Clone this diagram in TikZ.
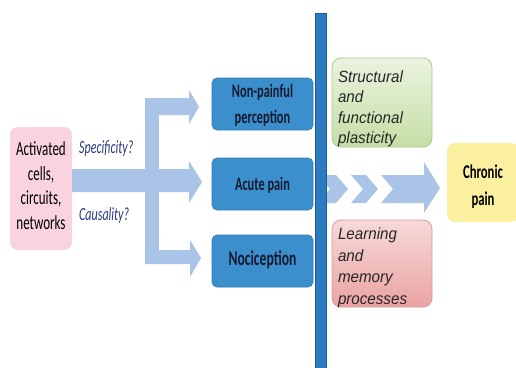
\documentclass[tikz,border=0pt]{standalone}
\usepackage{fontspec}
\newfontfamily\calfont[FakeStretch=0.65]{Carlito}
\newfontfamily\arifont[FakeStretch=0.93]{Liberation Sans}
\definecolor{arrowc}{HTML}{A9C4E6}
\definecolor{boxblue}{HTML}{3B8FCD}
\definecolor{boxtext}{HTML}{161A30}
\definecolor{navy}{HTML}{2B3A80}
\definecolor{linefill}{HTML}{2A7BC0}
\definecolor{lineedge}{HTML}{1E5A96}
\definecolor{pinkbox}{HTML}{F9D3E0}
\definecolor{yelbox}{HTML}{FBF0A0}
\definecolor{grtop}{HTML}{EAF3DF}
\definecolor{grbot}{HTML}{C6DEA6}
\definecolor{gredge}{HTML}{A9CB8C}
\definecolor{rdtop}{HTML}{F7D9D9}
\definecolor{rdbot}{HTML}{EBA3A3}
\definecolor{rdedge}{HTML}{D99A9A}
\tikzset{
  bluebox/.style={draw=boxblue!85!black, line width=0.6pt, fill=boxblue, rounded corners=5pt,
    minimum width=101pt, minimum height=52pt, inner sep=0pt},
  bluetext/.style={text=boxtext, align=center, inner sep=0pt},
  softbox/.style={rounded corners=9pt, minimum width=100pt, inner sep=0pt, line width=0.8pt},
  softtext/.style={text width=88pt, align=left, inner sep=0pt, text=black!85},
  arr/.style={fill=arrowc, draw=none},
}
\begin{document}
\begin{tikzpicture}[x=1pt,y=-1pt]
\useasboundingbox (0,0) rectangle (516,367);

% block arrows
\fill[arr] (60,169) -- (189,169) -- (189,161) -- (202,182) -- (189,203) -- (189,192) -- (60,192) -- cycle;
\fill[arr] (145,98) rectangle (159,263);
\fill[arr] (145,98) -- (189,98) -- (189,90) -- (199,107) -- (189,124) -- (189,115) -- (145,115) -- cycle;
\fill[arr] (145,250) -- (190,250) -- (190,240) -- (201,258) -- (190,277) -- (190,264) -- (145,264) -- cycle;

% source box
\node[fill=pinkbox, rounded corners=8pt, minimum width=62pt, minimum height=123pt, inner sep=0pt] (src) at (41,188.5) {};
\node[align=center, inner sep=0pt, font=\calfont\fontsize{20}{24.7}\selectfont] (srct) at ([yshift=3pt]src.center)
  {Activated\\cells,\\circuits,\\networks};

\node[anchor=west, text=navy, font=\calfont\itshape\fontsize{18.5}{20}\selectfont, inner sep=0pt] (spec) at (79,149) {Specificity?};
\node[anchor=west, text=navy, font=\calfont\itshape\fontsize{18.5}{20}\selectfont, inner sep=0pt] (caus) at (79,216) {Causality?};

% blue boxes
\node[bluebox] (np) at (262.5,104) {};
\node[bluebox] (ap) at (262.5,184) {};
\node[bluebox] (no) at (262.5,261) {};
\node[bluetext, font=\calfont\bfseries\fontsize{19}{25.5}\selectfont] (npt) at ([yshift=-1.5pt]np.center) {Non-painful\\perception};
\node[bluetext, font=\calfont\bfseries\fontsize{19}{25}\selectfont] (apt) at ([yshift=-1pt]ap.center) {Acute pain};
\node[bluetext, font=\calfont\bfseries\fontsize{21}{25}\selectfont] (not) at ([yshift=1.5pt]no.center) {Nociception};

% chevrons and final arrow
\fill[arr] (318,175) -- (336,175) -- (348,189) -- (336,203) -- (318,203) -- (330,189) -- cycle;
\fill[arr] (351,175) -- (366,175) -- (378,189) -- (366,203) -- (351,203) -- (363,189) -- cycle;
\fill[arr] (381,175) -- (424,175) -- (424,162) -- (440,188) -- (424,213) -- (424,203) -- (381,203) -- (393,189) -- cycle;

% vertical barrier
\fill[linefill, draw=lineedge, line width=1pt] (315.5,13.5) rectangle (326.5,368);

% side boxes
\node[softbox, draw=gredge, top color=grtop, bottom color=grbot, minimum height=89pt] (sfp) at (382,102.5) {};
\node[softtext, font=\arifont\itshape\fontsize{16.3}{20.5}\selectfont] (sfpt) at ([yshift=-6.5pt]sfp.center)
  {Structural\\and\\functional\\plasticity};
\node[softbox, draw=rdedge, top color=rdtop, bottom color=rdbot, minimum height=87pt] (lmp) at (382,263.5) {};
\node[softtext, font=\arifont\itshape\fontsize{16.3}{21.5}\selectfont] (lmpt) at ([yshift=-4.5pt]lmp.center)
  {Learning\\and\\memory\\processes};

\node[fill=yelbox, rounded corners=8pt, minimum width=72pt, minimum height=79pt, inner sep=0pt] (cp) at (483,182.5) {};
\node[align=center, inner sep=0pt, font=\calfont\bfseries\fontsize{19.5}{27}\selectfont] (cpt) at ([yshift=-4.5pt]cp.center)
  {Chronic\\pain};
\end{tikzpicture}
\end{document}
